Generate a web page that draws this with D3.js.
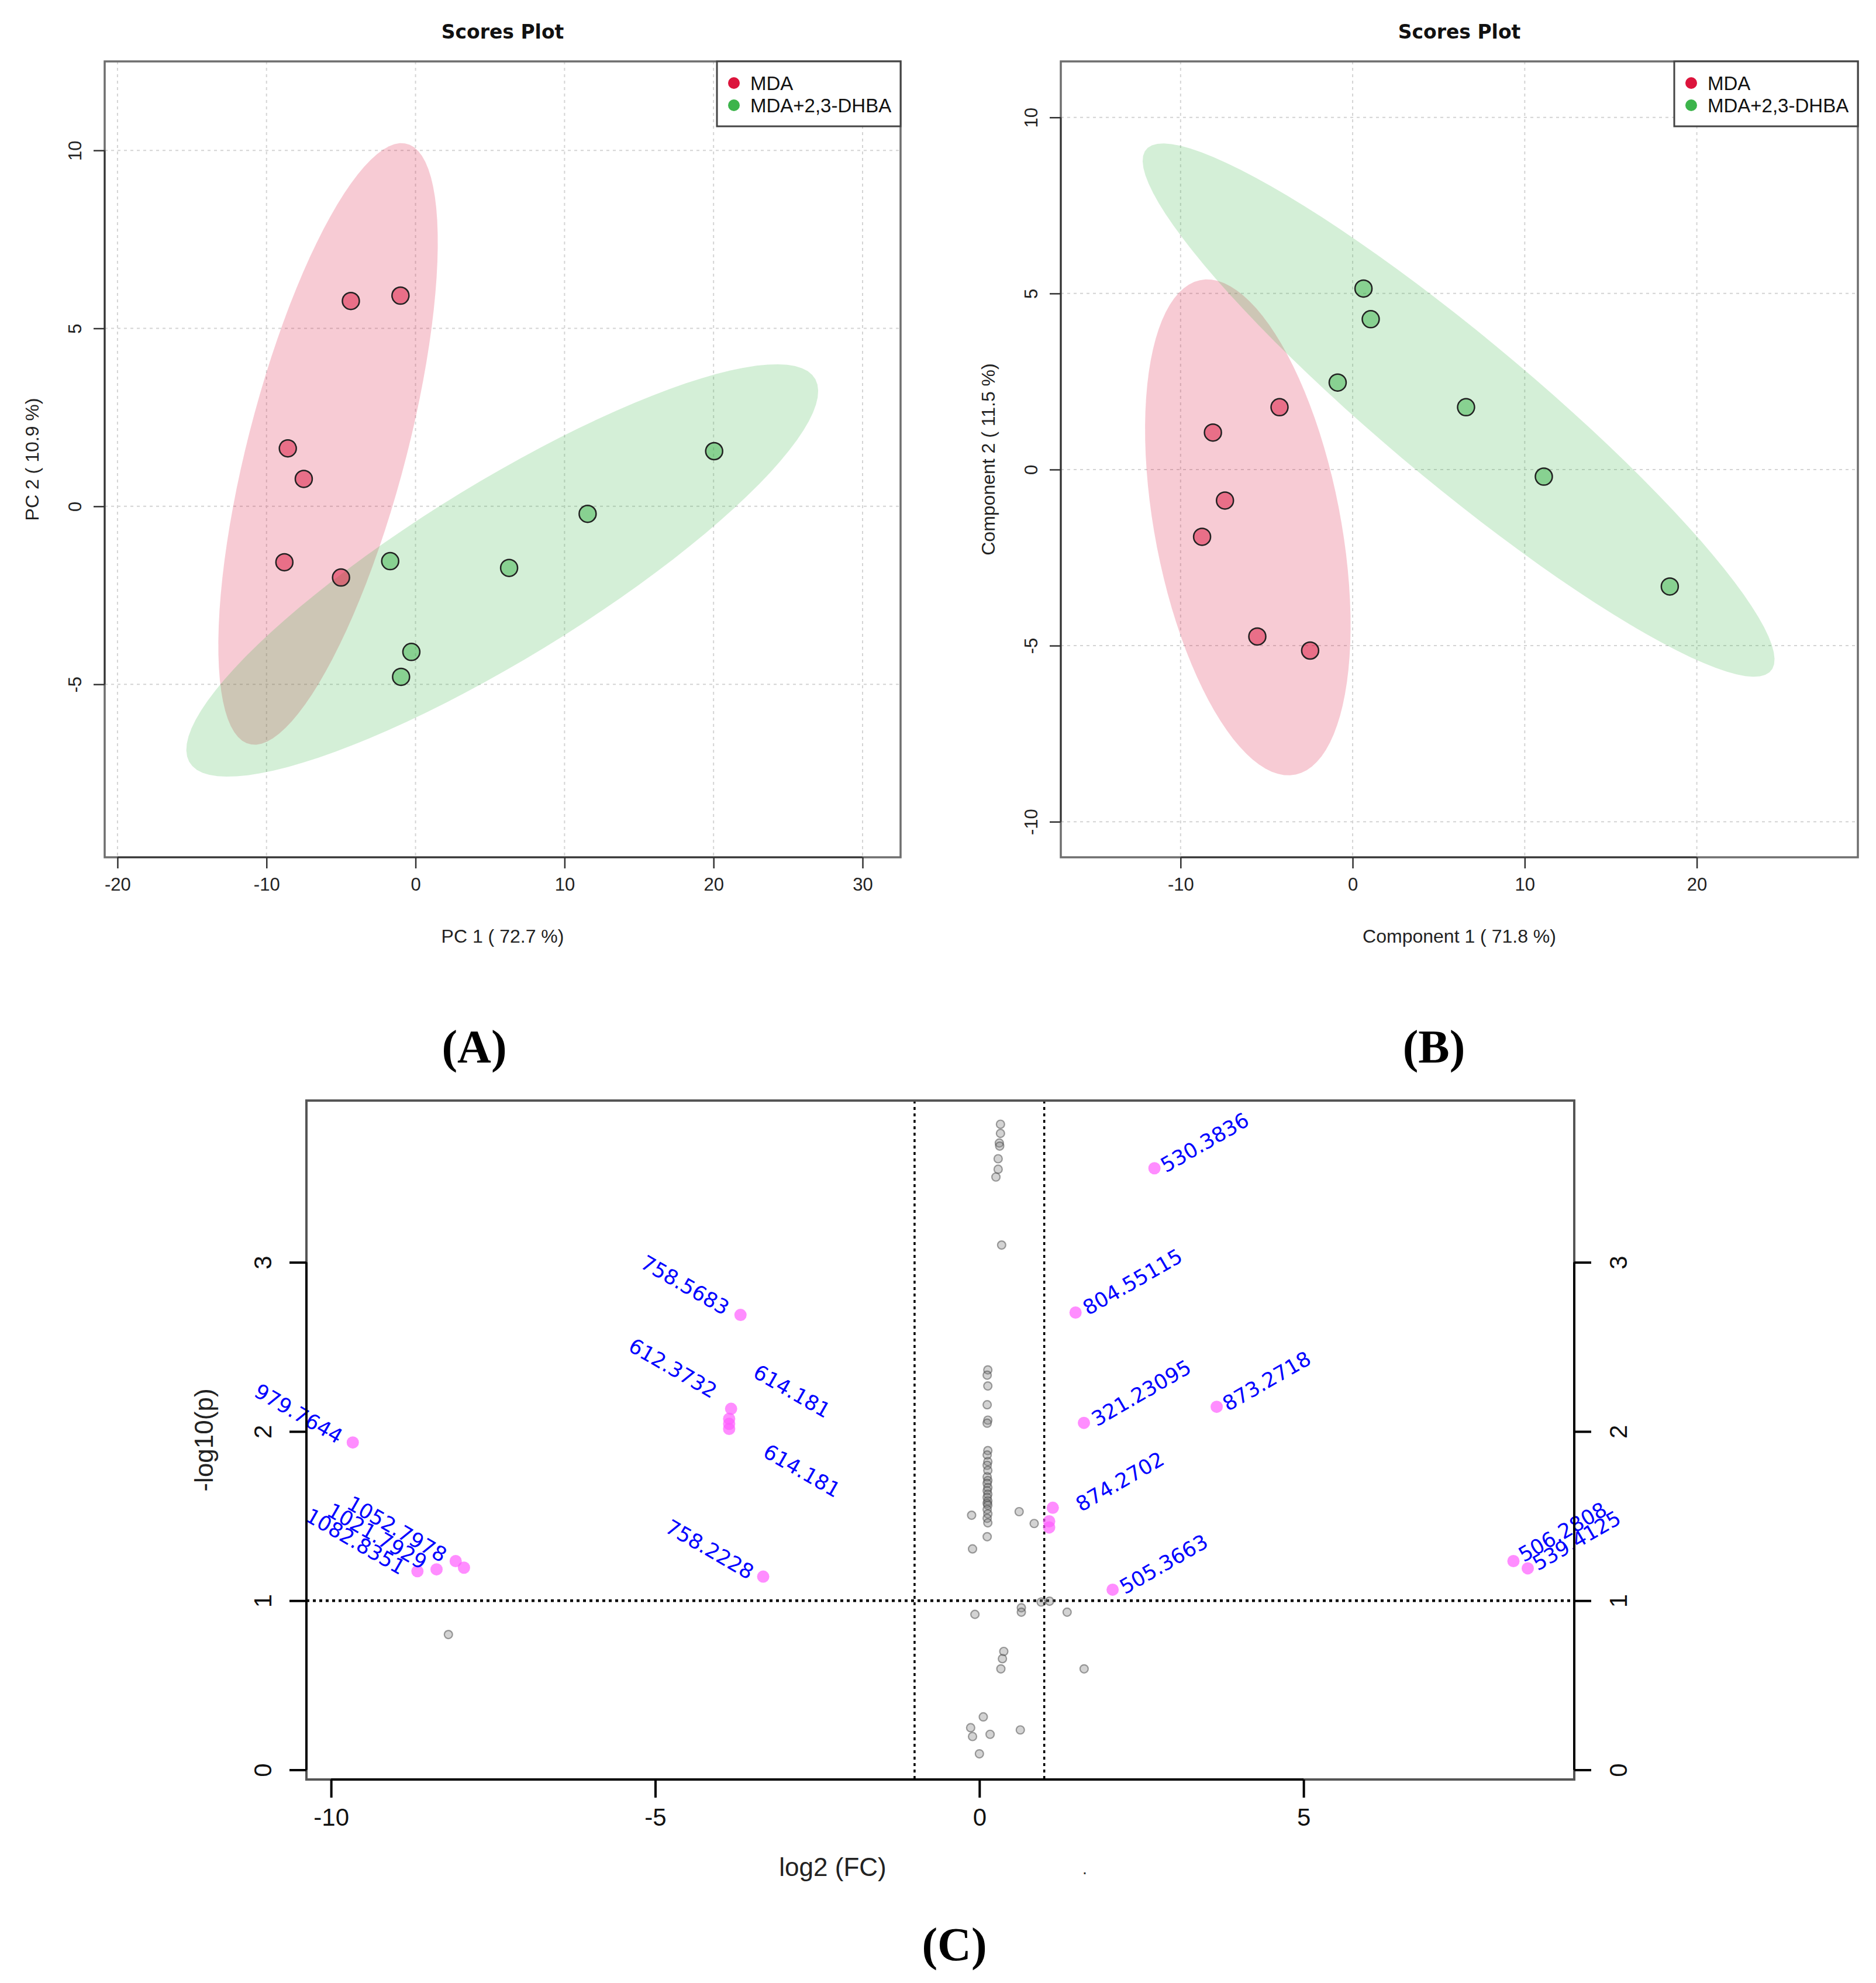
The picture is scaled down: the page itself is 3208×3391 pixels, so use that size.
<!DOCTYPE html>
<html>
<head>
<meta charset="utf-8">
<script src="https://cdn.jsdelivr.net/npm/d3@7/dist/d3.min.js"></script>
<style>
    body { margin: 0; background: #fff; }
    text { font-family: 'Liberation Sans', Arial, sans-serif; }
</style>
</head>
<body>
<script>
// ---- panel A: PCA scores
const groups = ['MDA', 'MDA+2,3-DHBA'];
const pcaMdaX = [-4.34, -1.01, -8.57, -7.5, -8.8, -5.0];
const pcaMdaY = [5.77, 5.92, 1.63, 0.77, -1.57, -2.0];
const pcaDhbaX = [-1.7, 6.28, 11.55, 20.04, -0.28, -0.97];
const pcaDhbaY = [-1.54, -1.73, -0.21, 1.55, -4.09, -4.79];
const pcaXTicks = [-20, -10, 0, 10, 20, 30];
const pcaYTicks = [-5, 0, 5, 10];

// ---- panel B: PLS-DA scores
const plsMdaX = [-4.25, -8.12, -7.42, -8.75, -5.54, -2.47];
const plsMdaY = [1.77, 1.05, -0.88, -1.91, -4.74, -5.14];
const plsDhbaX = [0.63, 1.05, -0.87, 6.59, 11.11, 18.43];
const plsDhbaY = [5.14, 4.27, 2.47, 1.77, -0.2, -3.32];
const plsXTicks = [-10, 0, 10, 20];
const plsYTicks = [-10, -5, 0, 5, 10];

// ---- panel C: volcano plot
const grayX = [0.325, 0.325, 0.307, 0.313, 0.289, 0.289, 0.255, 0.343,
    0.13, 0.12, 0.13, 0.12, 0.13, 0.12, 0.13, 0.12, 0.13, 0.12, 0.13, 0.12, 0.13,
    0.12, 0.13, 0.12, 0.13, 0.12, 0.13, 0.12, 0.13, 0.12, 0.13, 0.12, 0.13, 0.12,
    -0.12, -0.106, 0.613, 0.845, -0.069, 0.647, 0.647, 0.953, 1.082, 1.353,
    0.376, 0.355, 0.331, 1.615, 0.06, -0.135, -0.106, 0.165, 0.631, 0.0, -8.19];
const grayY = [3.816, 3.762, 3.705, 3.687, 3.612, 3.55, 3.504, 3.102,
    2.364, 2.333, 2.269, 2.158, 2.067, 2.049, 1.887, 1.861, 1.822, 1.8, 1.77, 1.732,
    1.71, 1.693, 1.668, 1.65, 1.629, 1.61, 1.59, 1.575, 1.564, 1.539, 1.513, 1.487,
    1.46, 1.378,
    1.505, 1.306, 1.526, 1.456, 0.919, 0.958, 0.932, 0.992, 0.997, 0.932,
    0.7, 0.657, 0.597, 0.597, 0.313, 0.249, 0.197, 0.21, 0.236, 0.095, 0.8];
const sigX = [2.7, -3.685, 1.483, 3.66, 1.612, -3.83, -3.86, -3.86, -3.86, -9.665,
    1.132, 1.076, 1.076, -3.335, 2.055, -8.078, -7.95, -8.373, -8.668, 8.237, 8.458];
const sigY = [3.556, 2.689, 2.703, 2.146, 2.051, 2.134, 2.075, 2.045, 2.015, 1.935,
    1.549, 1.469, 1.433, 1.142, 1.065, 1.234, 1.195, 1.185, 1.174, 1.234, 1.191];
const labelText = ['758.5683', '612.3732', '614.181', '614.181', '979.7644',
    '1052.7978', '1021.7929', '1082.8351', '758.2228',
    '530.3836', '804.55115', '321.23095', '873.2718', '874.2702', '505.3663',
    '506.2808', '539.4125'];
const labelX = [-3.942, -4.131, -2.381, -2.228, -9.904, -8.299, -8.605, -8.939, -3.563,
    2.878, 1.678, 1.813, 3.834, 1.57, 2.246, 8.398, 8.614];
const labelY = [2.684, 2.193, 2.076, 1.606, 1.924, 1.223, 1.181, 1.15, 1.122,
    3.527, 2.684, 2.027, 2.117, 1.523, 1.035, 1.225, 1.174];
const volcanoXTicks = [-10, -5, 0, 5];
const volcanoYTicks = [0, 1, 2, 3];
const fcThreshold = [-1, 1];
const pThreshold = 1;

const groupColors = ['#dc143c', '#3cb44b'];

const svg = d3.select('body').append('svg')
    .attr('width', 3208)
    .attr('height', 3391)
    .style('background', '#fff');

// 95% confidence ellipse, same as ellipse::ellipse in R
function ellipsePoints(xs, ys) {
    const mx = d3.mean(xs);
    const my = d3.mean(ys);
    const sx = d3.deviation(xs);
    const sy = d3.deviation(ys);
    const cov = d3.sum(xs.map((x, i) => (x - mx) * (ys[i] - my))) / (xs.length - 1);
    const d = Math.acos(cov / (sx * sy));
    const t = Math.sqrt(5.991465);
    return d3.range(100).map((i) => {
        const a = (2 * Math.PI * i) / 100;
        return [mx + t * sx * Math.cos(a + d / 2), my + t * sy * Math.cos(a - d / 2)];
    });
}

function drawScores(opt) {
    const g = svg.append('g');
    const x = d3.scaleLinear().domain(opt.xDomain).range([opt.left, opt.right]);
    const y = d3.scaleLinear().domain(opt.yDomain).range([opt.bottom, opt.top]);

    // grid
    g.selectAll('.vgrid').data(opt.xTicks).enter().append('line')
        .attr('x1', (d) => x(d)).attr('x2', (d) => x(d))
        .attr('y1', opt.top).attr('y2', opt.bottom)
        .attr('stroke', '#d4d4d4').attr('stroke-width', 2)
        .attr('stroke-dasharray', '5,6');
    g.selectAll('.hgrid').data(opt.yTicks).enter().append('line')
        .attr('y1', (d) => y(d)).attr('y2', (d) => y(d))
        .attr('x1', opt.left).attr('x2', opt.right)
        .attr('stroke', '#d4d4d4').attr('stroke-width', 2)
        .attr('stroke-dasharray', '5,6');

    // ellipses
    const line = d3.line().x((d) => x(d[0])).y((d) => y(d[1])).curve(d3.curveLinearClosed);
    opt.series.forEach((s, i) => {
        g.append('path')
            .attr('d', line(ellipsePoints(s.x, s.y)))
            .attr('fill', groupColors[i])
            .attr('fill-opacity', 0.22);
    });

    // points
    opt.series.forEach((s, i) => {
        g.selectAll('.pt' + i).data(s.x).enter().append('circle')
            .attr('cx', (d) => x(d))
            .attr('cy', (d, j) => y(s.y[j]))
            .attr('r', 14.5)
            .attr('fill', groupColors[i])
            .attr('fill-opacity', 0.5)
            .attr('stroke', '#222')
            .attr('stroke-width', 2.5);
    });

    // box
    g.append('rect')
        .attr('x', opt.left).attr('y', opt.top)
        .attr('width', opt.right - opt.left).attr('height', opt.bottom - opt.top)
        .attr('fill', 'none').attr('stroke', '#6e6e6e').attr('stroke-width', 3.5);

    // axes, R style: line from first to last tick
    const xAxis = d3.axisBottom(x).tickValues(opt.xTicks).tickSize(19).tickPadding(16)
        .tickFormat(d3.format('d'));
    const gx = g.append('g').attr('transform', `translate(0,${ opt.bottom })`).call(xAxis);
    gx.select('.domain').attr('d', `M${ x(opt.xTicks[0]) },0H${ x(opt.xTicks[opt.xTicks.length - 1]) }`);
    gx.selectAll('line, path').attr('stroke', '#333').attr('stroke-width', 2.5);
    gx.selectAll('text').attr('font-size', 31).attr('fill', '#222')
        .attr('font-family', "'Liberation Sans', Arial, sans-serif")
        .text((d) => String(d));

    const yAxis = d3.axisLeft(y).tickValues(opt.yTicks).tickSize(19).tickFormat(d3.format('d'));
    const gy = g.append('g').attr('transform', `translate(${ opt.left },0)`).call(yAxis);
    gy.select('.domain').attr('d', `M0,${ y(opt.yTicks[0]) }V${ y(opt.yTicks[opt.yTicks.length - 1]) }`);
    gy.selectAll('line, path').attr('stroke', '#333').attr('stroke-width', 2.5);
    gy.selectAll('text')
        .attr('font-size', 31).attr('fill', '#222')
        .attr('font-family', "'Liberation Sans', Arial, sans-serif")
        .attr('x', null).attr('dy', null)
        .attr('text-anchor', 'middle')
        .attr('dominant-baseline', 'central')
        .attr('transform', 'translate(-51,0) rotate(-90)')
        .text((d) => String(d));

    // title and axis labels
    g.append('text')
        .attr('x', (opt.left + opt.right) / 2).attr('y', 54)
        .attr('text-anchor', 'middle').attr('dominant-baseline', 'central')
        .style('font-family', "'DejaVu Sans', sans-serif")
        .attr('font-weight', 'bold').attr('font-size', 33).attr('fill', '#111')
        .text('Scores Plot');
    g.append('text')
        .attr('x', (opt.left + opt.right) / 2).attr('y', 1601)
        .attr('text-anchor', 'middle').attr('dominant-baseline', 'central')
        .attr('font-size', 32).attr('fill', '#222')
        .text(opt.xLabel);
    g.append('text')
        .attr('transform', `translate(${ opt.left - 124 },${ (opt.top + opt.bottom) / 2 }) rotate(-90)`)
        .attr('text-anchor', 'middle').attr('dominant-baseline', 'central')
        .attr('font-size', 32).attr('fill', '#222')
        .text(opt.yLabel);

    // legend
    const lx = opt.right - 314;
    const legend = g.append('g');
    legend.append('rect')
        .attr('x', lx).attr('y', opt.top)
        .attr('width', opt.right - lx).attr('height', 111)
        .attr('fill', '#fff').attr('stroke', '#444').attr('stroke-width', 3);
    groups.forEach((name, i) => {
        legend.append('circle')
            .attr('cx', lx + 29).attr('cy', opt.top + 37 + i * 38)
            .attr('r', 10).attr('fill', groupColors[i]);
        legend.append('text')
            .attr('x', lx + 57).attr('y', opt.top + 37 + i * 38)
            .attr('dominant-baseline', 'central')
            .attr('font-size', 33).attr('fill', '#111')
            .text(name);
    });
}

drawScores({
    left: 179, right: 1540, top: 105, bottom: 1466,
    xDomain: [-20.86, 32.55], yDomain: [-9.86, 12.5],
    xTicks: pcaXTicks, yTicks: pcaYTicks,
    xLabel: 'PC 1 ( 72.7 %)', yLabel: 'PC 2 ( 10.9 %)',
    series: [{ x: pcaMdaX, y: pcaMdaY }, { x: pcaDhbaX, y: pcaDhbaY }],
});

drawScores({
    left: 1814, right: 3177, top: 105, bottom: 1466,
    xDomain: [-16.96, 29.36], yDomain: [-11.01, 11.59],
    xTicks: plsXTicks, yTicks: plsYTicks,
    xLabel: 'Component 1 ( 71.8 %)', yLabel: 'Component 2 ( 11.5 %)',
    series: [{ x: plsMdaX, y: plsMdaY }, { x: plsDhbaX, y: plsDhbaY }],
});

// ---- volcano
function drawVolcano() {
    const left = 524, right = 2692, top = 1882, bottom = 3043;
    const g = svg.append('g');
    const x = d3.scaleLinear().domain([-10.38, 9.175]).range([left, right]);
    const y = d3.scaleLinear().domain([-0.057, 3.956]).range([bottom, top]);

    // threshold lines
    g.selectAll('.vline').data(fcThreshold).enter().append('line')
        .attr('x1', (d) => x(d)).attr('x2', (d) => x(d))
        .attr('y1', top).attr('y2', bottom)
        .attr('stroke', '#000').attr('stroke-width', 3.5)
        .attr('stroke-dasharray', '5,6');
    g.append('line')
        .attr('x1', left).attr('x2', right)
        .attr('y1', y(pThreshold)).attr('y2', y(pThreshold))
        .attr('stroke', '#000').attr('stroke-width', 4.5)
        .attr('stroke-dasharray', '5,6');

    g.selectAll('.gray').data(grayX).enter().append('circle')
        .attr('cx', (d) => x(d))
        .attr('cy', (d, i) => y(grayY[i]))
        .attr('r', 7)
        .attr('fill', 'rgba(130,130,130,0.35)')
        .attr('stroke', 'rgba(70,70,70,0.5)')
        .attr('stroke-width', 2.2);

    g.selectAll('.sig').data(sigX).enter().append('circle')
        .attr('cx', (d) => x(d))
        .attr('cy', (d, i) => y(sigY[i]))
        .attr('r', 10.5)
        .attr('fill', '#ff5cff')
        .attr('fill-opacity', 0.7);

    g.selectAll('.lab').data(labelText).enter().append('text')
        .attr('transform', (d, i) => `translate(${ x(labelX[i]) },${ y(labelY[i]) }) rotate(${ labelX[i] < 0 ? 30 : -30 })`)
        .attr('text-anchor', (d, i) => (labelX[i] < 0 ? 'end' : 'start'))
        .style('font-family', "'DejaVu Sans', sans-serif")
        .attr('font-size', 35)
        .attr('fill', '#0000ff')
        .text((d) => d);

    // box and axes
    g.append('rect')
        .attr('x', left).attr('y', top)
        .attr('width', right - left).attr('height', bottom - top)
        .attr('fill', 'none').attr('stroke', '#555').attr('stroke-width', 4);

    const gx = g.append('g').attr('transform', `translate(0,${ bottom })`)
        .call(d3.axisBottom(x).tickValues(volcanoXTicks).tickSize(31).tickPadding(18)
            .tickFormat(d3.format('d')));
    gx.select('.domain').attr('d', `M${ x(-10) },0H${ x(5) }`);
    gx.selectAll('line, path').attr('stroke', '#000').attr('stroke-width', 4);
    gx.selectAll('text').attr('font-size', 42).attr('fill', '#111')
        .attr('font-family', "'Liberation Sans', Arial, sans-serif")
        .text((d) => String(d));

    [['left', left, -1], ['right', right, 1]].forEach(([side, xpos, dir]) => {
        const axis = side === 'left' ? d3.axisLeft(y) : d3.axisRight(y);
        const ga = g.append('g').attr('transform', `translate(${ xpos },0)`)
            .call(axis.tickValues(volcanoYTicks).tickSize(29).tickFormat(d3.format('d')));
        ga.select('.domain').attr('d', `M0,${ y(0) }V${ y(3) }`);
        ga.selectAll('line, path').attr('stroke', '#000').attr('stroke-width', 4);
        ga.selectAll('text')
            .attr('font-size', 42).attr('fill', '#111')
            .attr('font-family', "'Liberation Sans', Arial, sans-serif")
            .attr('x', null).attr('dy', null)
            .attr('text-anchor', 'middle')
            .attr('dominant-baseline', 'central')
            .attr('transform', `translate(${ dir * 75 },0) rotate(-90)`)
            .text((d) => String(d));
    });

    g.append('text')
        .attr('x', 1424).attr('y', 3192)
        .attr('text-anchor', 'middle').attr('dominant-baseline', 'central')
        .attr('font-size', 44).attr('fill', '#222')
        .text('log2 (FC)');
    g.append('text')
        .attr('transform', `translate(348,${ (top + bottom) / 2 }) rotate(-90)`)
        .attr('text-anchor', 'middle').attr('dominant-baseline', 'central')
        .attr('font-size', 44).attr('fill', '#222')
        .text('-log10(p)');
    g.append('text')
        .attr('x', 1855).attr('y', 3205)
        .attr('text-anchor', 'middle')
        .attr('font-size', 30).attr('fill', '#333')
        .text('.');
}

drawVolcano();

// panel captions
[['(A)', 811, 1790], ['(B)', 2452, 1790], ['(C)', 1632, 3325]].forEach(([t, cx, cy]) => {
    svg.append('text')
        .attr('x', cx).attr('y', cy)
        .attr('text-anchor', 'middle').attr('dominant-baseline', 'central')
        .style('font-family', "'Liberation Serif', 'Times New Roman', serif")
        .attr('font-weight', 'bold').attr('font-size', 80).attr('fill', '#000')
        .text(t);
});
</script>
</body>
</html>
